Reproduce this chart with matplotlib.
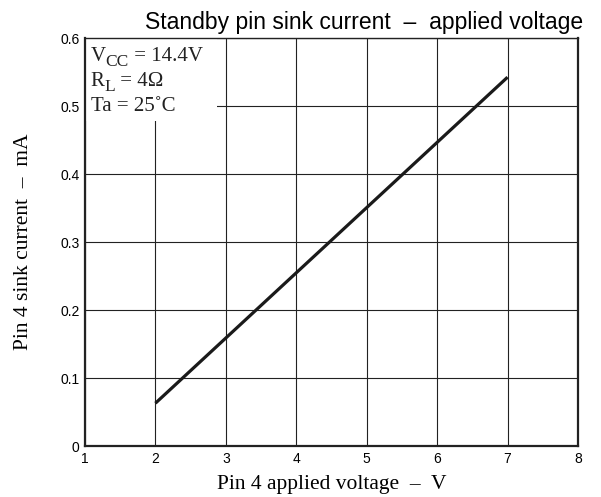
"""Standby pin sink current vs applied voltage."""

import matplotlib
matplotlib.use("Agg")
import matplotlib.pyplot as plt
from matplotlib.patches import Rectangle

# Data
voltage = [2, 3, 4, 5, 6, 7]
sink_current = [0.063, 0.159, 0.255, 0.351, 0.447, 0.543]

x_ticks = [1, 2, 3, 4, 5, 6, 7, 8]
y_ticks = [0, 0.1, 0.2, 0.3, 0.4, 0.5, 0.6]
y_tick_labels = ["0", "0.1", "0.2", "0.3", "0.4", "0.5", "0.6"]

# operating conditions: (main symbol, subscript, rest)
conditions = [("V", "CC", " = 14.4V"), ("R", "L", " = 4Ω"), ("Ta = 25˚C", "", "")]

SERIF = "Liberation Serif"
SANS = "Liberation Sans"
INK = "#222222"

fig = plt.figure(figsize=(6.01, 4.97), dpi=100)
ax = fig.add_axes([0.1414, 0.1026, 0.8203, 0.8200])

ax.plot(voltage, sink_current, color="#1a1a1a", linewidth=2.3, zorder=3,
        solid_capstyle="butt")

ax.set_xlim(1, 8)
ax.set_ylim(0, 0.6)
ax.set_xticks(x_ticks)
ax.set_yticks(y_ticks)
ax.set_yticklabels(y_tick_labels)
ax.tick_params(length=0, labelsize=10, pad=4)
for lab in ax.get_xticklabels() + ax.get_yticklabels():
    lab.set_family(SANS)
ax.grid(True, color=INK, linewidth=0.8)
ax.set_axisbelow(True)
for side, sp in ax.spines.items():
    sp.set_color(INK)
    sp.set_linewidth(1.6 if side in ("left", "bottom", "right") else 1.0)

# White box behind the operating conditions
ax.add_patch(Rectangle((1, 0.479), 1.87, 0.121, facecolor="white",
                       edgecolor="none", zorder=2))
for i, (main, sub, rest) in enumerate(conditions):
    y = 0.573 - i * 0.0368
    t = ax.text(1.08, y, main, family=SERIF, fontsize=15, va="center",
                ha="left", zorder=4, color=INK)
    if sub:
        # subscript sits a little lower, then the rest goes back on the line
        t2 = ax.annotate(sub, xy=(1, 0), xycoords=t, xytext=(0, -2.8),
                         textcoords="offset points", family=SERIF,
                         fontsize=12.5, va="bottom", ha="left", zorder=4,
                         color=INK)
        ax.annotate(rest, xy=(1, 0), xycoords=t2, xytext=(0, 2.8),
                    textcoords="offset points", family=SERIF, fontsize=15,
                    va="bottom", ha="left", zorder=4, color=INK)

ax.set_xlabel("Pin 4 applied voltage  –  V", family=SERIF, fontsize=15.5,
              va="center")
ax.xaxis.set_label_coords(0.5, -0.095)
ax.set_ylabel("Pin 4 sink current  –  mA", family=SERIF, fontsize=15.5,
              va="center")
ax.yaxis.set_label_coords(-0.1237, 0.5)

fig.text(0.606, 0.942, "Standby pin sink current  –  applied voltage",
         family=SANS, fontsize=16.5, ha="center", va="baseline")

fig.savefig("out.png", dpi=100)
